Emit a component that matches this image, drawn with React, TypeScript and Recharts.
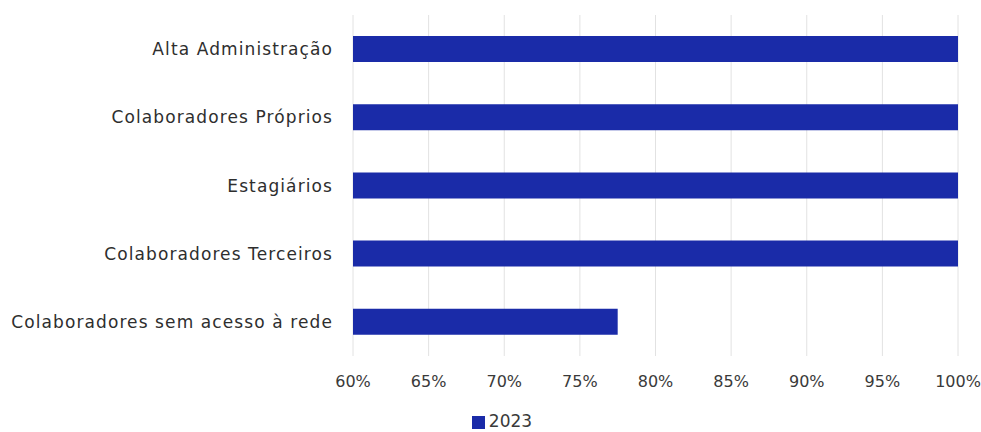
import { BarChart, Bar, XAxis, YAxis, CartesianGrid, Legend } from 'recharts';

const categories = [
  'Alta Administração',
  'Colaboradores Próprios',
  'Estagiários',
  'Colaboradores Terceiros',
  'Colaboradores sem acesso à rede',
];
const values2023 = [100, 100, 100, 100, 77.5];
const xTicks = [60, 65, 70, 75, 80, 85, 90, 95, 100];

const data = categories.map((name, i) => ({ name, v2023: values2023[i] }));

const FONT = '"DejaVu Sans", sans-serif';

export default function App() {
  return (
    <div style={{ position: 'absolute', left: 0, top: 0, background: '#fff' }}>
      <BarChart
        width={981}
        height={432}
        data={data}
        layout="vertical"
        margin={{ top: 15, right: 23, left: 0, bottom: 4 }}
      >
        <CartesianGrid horizontal={false} stroke="#e2e2e2" />
        <XAxis
          type="number"
          domain={[60, 100]}
          ticks={xTicks}
          tickFormatter={(v: number) => `${v}%`}
          axisLine={false}
          tickLine={false}
          tickSize={0}
          tickMargin={20}
          height={54}
          interval={0}
          tick={{ fill: '#3a3a3a', fontSize: 16, fontFamily: FONT }}
        />
        <YAxis
          type="category"
          dataKey="name"
          width={353}
          axisLine={false}
          tickLine={false}
          tickSize={0}
          tickMargin={20}
          interval={0}
          tick={{ fill: '#2e2e2e', fontSize: 17, fontFamily: FONT, letterSpacing: 1.1 }}
        />
        <Legend
          verticalAlign="bottom"
          iconType="square"
          iconSize={13}
          wrapperStyle={{ fontFamily: FONT, fontSize: 17, lineHeight: '18px', top: 412, left: 28 }}
          formatter={(value: string) => <span style={{ color: '#3a3a3a' }}>{value}</span>}
        />
        <Bar dataKey="v2023" name="2023" fill="#1a2ba8" barSize={26} isAnimationActive={false} />
      </BarChart>
    </div>
  );
}
